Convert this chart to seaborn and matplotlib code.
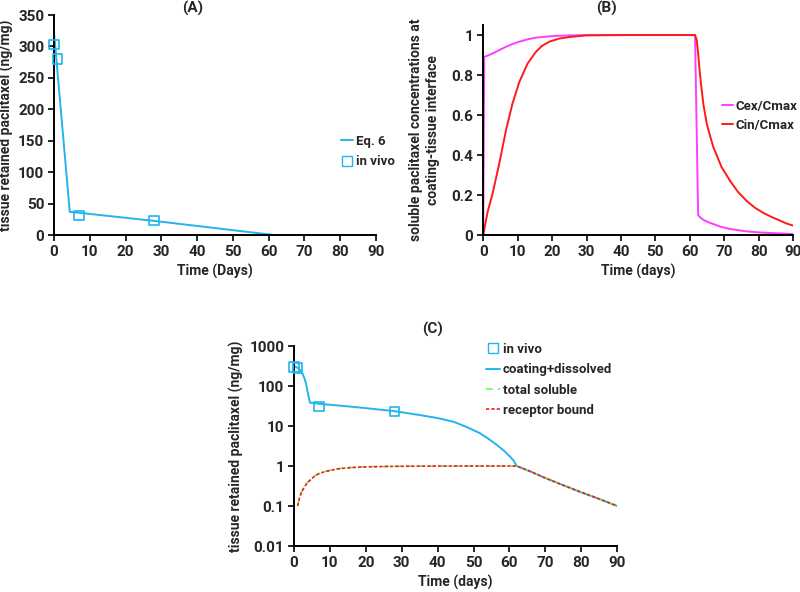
import matplotlib
matplotlib.use("Agg")
import matplotlib.pyplot as plt
import seaborn as sns
from matplotlib.lines import Line2D

# ---- data ----
# (A) tissue retained paclitaxel, linear axis
eq6_t = [0, 4.4, 28, 61.5]
eq6_v = [323, 37, 22.5, 0]
invivo_t = [0, 1, 7, 28]
invivo_v = [303, 280, 31, 23]

# (B) normalised soluble concentrations at the interface
cex_t = [0, 0.3, 1, 3, 5.6, 8, 10.5, 13, 15.3, 20.2, 25, 30, 40, 50, 61.5,
         62.4, 63, 64, 65.5, 66.8, 69, 71.7, 76.5, 81, 86.2, 90]
cex_v = [0, 0.891, 0.895, 0.91, 0.933, 0.952, 0.967, 0.979, 0.987, 0.995, 0.998, 1.0, 1.0, 1.0, 1.0,
         0.10, 0.088, 0.075, 0.063, 0.055, 0.041, 0.03, 0.018, 0.012, 0.008, 0.005]
cin_t = [0, 1.26, 2.7, 4.65, 6.6, 8.5, 10.5, 12.9, 15.3, 17, 19.2, 22, 25, 29.8, 40, 50, 61.5,
         62, 62.4, 62.9, 63.4, 63.9, 64.9, 65.8, 66.8, 68, 69.2, 71.7, 74, 76.5, 79, 81.4,
         84, 86.2, 88, 90]
cin_v = [0, 0.114, 0.206, 0.356, 0.523, 0.657, 0.766, 0.858, 0.916, 0.945, 0.967, 0.982, 0.99,
         0.998, 1.0, 1.0, 1.0,
         0.975, 0.908, 0.81, 0.73, 0.657, 0.557, 0.5, 0.44, 0.39, 0.34, 0.27, 0.215, 0.17,
         0.135, 0.11, 0.088, 0.072, 0.058, 0.047]

# (C) log axis
coat_t = [0, 1, 1.5, 2, 2.5, 3, 3.3, 3.6, 3.9, 4.2, 4.5, 7, 10, 15, 20, 28, 35, 40, 44.4,
          48, 51.8, 54, 56.5, 58.5, 60.2, 61.2, 62, 66, 70, 75, 80, 85, 90]
coat_v = [316, 285, 262, 232, 192, 148, 118, 88, 64, 48, 38, 36, 34, 31, 28, 23.5, 18.8,
          15.8, 12.8, 9.5, 6.6, 4.9, 3.35, 2.4, 1.7, 1.35, 1.0, 0.72, 0.5, 0.33, 0.22, 0.15, 0.1]
sol_t = [1, 1.5, 2, 2.8, 3.6, 5, 6, 7.2, 8.5, 10, 12, 14, 16, 18, 21, 25, 30, 40, 50, 62,
         66, 70, 75, 80, 85, 90]
sol_v = [0.1, 0.16, 0.22, 0.3, 0.38, 0.5, 0.59, 0.67, 0.73, 0.78, 0.85, 0.89, 0.92, 0.94, 0.96,
         0.975, 0.99, 1.0, 1.0, 1.0, 0.72, 0.5, 0.33, 0.22, 0.15, 0.1]
rec_v = [0.1, 0.155, 0.21, 0.29, 0.37, 0.49, 0.58, 0.66, 0.72, 0.77, 0.84, 0.885, 0.915, 0.935,
         0.955, 0.97, 0.985, 0.995, 1.0, 1.0, 0.72, 0.5, 0.33, 0.22, 0.15, 0.1]

BLUE = "#22b4ee"
MAGENTA = "#ff3dff"
RED = "#ff1a1a"
GREEN = "#5cff5c"
TICK_FS = 11
LAB_FS = 10
LEG_FS = 9.5

sns.set_style("ticks")
plt.rcParams["font.family"] = ["Roboto", "DejaVu Sans"]
plt.rcParams["font.weight"] = "bold"
plt.rcParams["axes.labelweight"] = "bold"
plt.rcParams["font.size"] = LAB_FS

fig = plt.figure(figsize=(8, 5.92), dpi=100)
axA = fig.add_axes([0.0675, 0.603, 0.4025, 0.3716])
axB = fig.add_axes([0.604, 0.603, 0.3875, 0.3547])
axC = fig.add_axes([0.3675, 0.0777, 0.404, 0.3378])


def style(ax):
    sns.despine(ax=ax)
    for s in ("left", "bottom"):
        ax.spines[s].set_linewidth(1.4)
        ax.spines[s].set_color("black")
    ax.tick_params(direction="out", length=4, width=1.4, labelsize=TICK_FS, pad=3)
    for lab in ax.get_xticklabels() + ax.get_yticklabels():
        lab.set_fontweight("bold")
    ax.set_xlim(0, 90)
    ax.set_xticks(range(0, 91, 10))


sq = dict(marker="s", s=48, facecolor="none", edgecolor=BLUE, linewidth=1.2, clip_on=False, zorder=5)
leg_kw = dict(frameon=False, loc="upper left", bbox_transform=fig.transFigure,
              borderpad=0, borderaxespad=0, handletextpad=0.2,
              prop={"weight": "bold", "size": LEG_FS})

# ---- (A) ----
sns.lineplot(x=eq6_t, y=eq6_v, ax=axA, color=BLUE, lw=1.4, sort=False, estimator=None)
sns.scatterplot(x=invivo_t, y=invivo_v, ax=axA, **sq)
axA.set_ylim(0, 350)
axA.set_yticks(range(0, 351, 50))
style(axA)
axA.set_xlabel("Time (Days)", fontsize=LAB_FS, labelpad=4)
axA.set_ylabel("tissue retained paclitaxel (ng/mg)", fontsize=LAB_FS, labelpad=3)
hA = [Line2D([], [], color=BLUE, lw=1.4),
      Line2D([], [], color=BLUE, marker="s", ls="", mfc="none", mec=BLUE, ms=7)]
axA.legend(hA, ["Eq. 6", "in vivo"], bbox_to_anchor=(0.4265, 0.772),
           handlelength=0.9, labelspacing=0.55, **leg_kw)

# ---- (B) ----
sns.lineplot(x=cex_t, y=cex_v, ax=axB, color=MAGENTA, lw=1.4, sort=False, estimator=None)
sns.lineplot(x=cin_t, y=cin_v, ax=axB, color=RED, lw=1.4, sort=False, estimator=None)
axB.set_ylim(0, 1.05)
axB.set_yticks([0, 0.2, 0.4, 0.6, 0.8, 1])
axB.set_yticklabels(["0", "0.2", "0.4", "0.6", "0.8", "1"])
style(axB)
axB.set_xlabel("Time (days)", fontsize=LAB_FS, labelpad=4)
axB.set_ylabel("soluble paclitaxel concentrations at\ncoating-tissue interface",
               fontsize=LAB_FS, labelpad=8, linespacing=1.3)
hB = [Line2D([], [], color=MAGENTA, lw=1.4), Line2D([], [], color=RED, lw=1.4)]
axB.legend(hB, ["Cex/Cmax", "Cin/Cmax"], bbox_to_anchor=(0.902, 0.831),
           handlelength=0.85, labelspacing=0.45, **leg_kw)

# ---- (C) ----
sns.lineplot(x=coat_t, y=coat_v, ax=axC, color=BLUE, lw=1.4, sort=False, estimator=None)
sns.lineplot(x=sol_t, y=sol_v, ax=axC, color=GREEN, lw=1.2, ls=(0, (4, 3)), sort=False, estimator=None)
sns.lineplot(x=sol_t, y=rec_v, ax=axC, color=RED, lw=1.2, ls=(0, (2, 1.2)), sort=False, estimator=None)
sns.scatterplot(x=invivo_t, y=invivo_v, ax=axC, **sq)
axC.set_yscale("log")
axC.set_ylim(0.01, 1000)
axC.set_yticks([0.01, 0.1, 1, 10, 100, 1000])
axC.set_yticklabels(["0.01", "0.1", "1", "10", "100", "1000"])
axC.minorticks_off()
style(axC)
axC.set_xlabel("Time (days)", fontsize=LAB_FS, labelpad=4)
axC.set_ylabel("tissue retained paclitaxel (ng/mg)", fontsize=LAB_FS, labelpad=4)
hC = [Line2D([], [], color=BLUE, marker="s", ls="", mfc="none", mec=BLUE, ms=7),
      Line2D([], [], color=BLUE, lw=1.4),
      Line2D([], [], color=GREEN, lw=1.2, ls=(0, (4, 3))),
      Line2D([], [], color=RED, lw=1.2, ls=(0, (2, 1.2)))]
axC.legend(hC, ["in vivo", "coating+dissolved", "total soluble", "receptor bound"],
           bbox_to_anchor=(0.607, 0.4206), handlelength=1.1, labelspacing=0.55, **leg_kw)

fig.text(0.241, 0.986, "(A)", ha="center", va="center", fontsize=11, fontweight="bold")
fig.text(0.758, 0.986, "(B)", ha="center", va="center", fontsize=11, fontweight="bold")
fig.text(0.541, 0.444, "(C)", ha="center", va="center", fontsize=11, fontweight="bold")

fig.savefig("out.png", dpi=100)
